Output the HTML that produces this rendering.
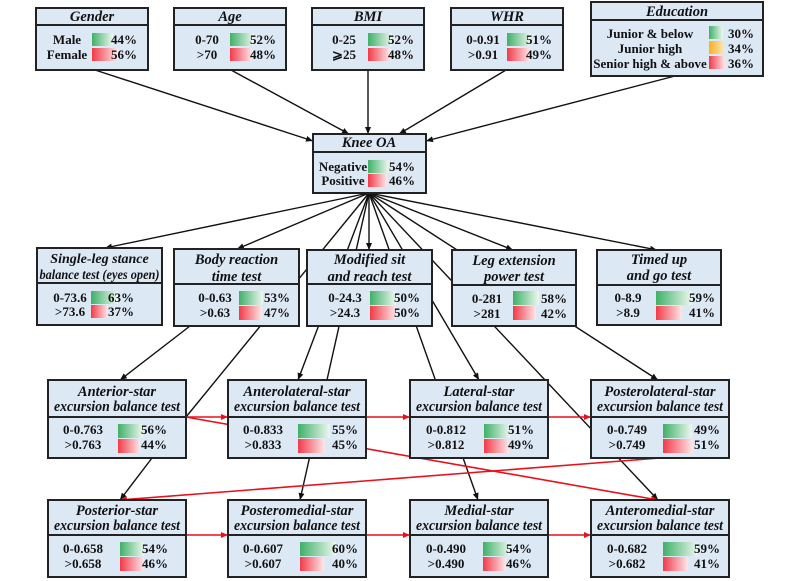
<!DOCTYPE html>
<html><head><meta charset="utf-8"><style>
html,body{margin:0;padding:0;background:#fff;}
svg{display:block;}
.t{font-family:"Liberation Serif",serif;font-weight:bold;font-style:italic;font-size:14.5px;fill:#111;text-anchor:middle;}
.t2{font-family:"Liberation Serif",serif;font-weight:bold;font-style:italic;font-size:14px;fill:#111;text-anchor:middle;}
.l{font-family:"Liberation Serif",serif;font-weight:bold;font-size:13px;fill:#111;text-anchor:middle;}
.p{font-family:"Liberation Serif",serif;font-weight:bold;font-size:13px;fill:#111;text-anchor:end;}
.b{fill:#dde8f5;stroke:#222;stroke-width:2;}
.d{stroke:#222;stroke-width:2;}
.k{stroke:#111;stroke-width:1.4;fill:none;}
.r{stroke:#e8101a;stroke-width:1.6;fill:none;}
</style></head><body>
<svg width="800" height="581" viewBox="0 0 800 581" xmlns="http://www.w3.org/2000/svg">
<defs>
<linearGradient id="g" x1="0" x2="1" y1="0" y2="0"><stop offset="0" stop-color="#3fb068"/><stop offset="1" stop-color="#eef8f0"/></linearGradient>
<linearGradient id="rr" x1="0" x2="1" y1="0" y2="0"><stop offset="0" stop-color="#f23a48"/><stop offset="1" stop-color="#fde8ea"/></linearGradient>
<linearGradient id="o" x1="0" x2="1" y1="0" y2="0"><stop offset="0" stop-color="#f9b020"/><stop offset="1" stop-color="#fde6b8"/></linearGradient>
<marker id="ak" markerWidth="8" markerHeight="8" refX="7" refY="4" orient="auto" markerUnits="userSpaceOnUse"><path d="M0,1 L7,4 L0,7z" fill="#111"/></marker>
<marker id="ar" markerWidth="8" markerHeight="8" refX="7" refY="4" orient="auto" markerUnits="userSpaceOnUse"><path d="M0,1 L7,4 L0,7z" fill="#e8101a"/></marker>
</defs>

<g class="k">
<line x1="95" y1="70" x2="313" y2="141" marker-end="url(#ak)"/>
<line x1="231" y1="70" x2="349" y2="134" marker-end="url(#ak)"/>
<line x1="368" y1="70" x2="368" y2="134" marker-end="url(#ak)"/>
<line x1="506" y1="70" x2="399" y2="134" marker-end="url(#ak)"/>
<line x1="675" y1="76" x2="426" y2="141" marker-end="url(#ak)"/>
<line x1="369" y1="193" x2="105" y2="248" marker-end="url(#ak)"/>
<line x1="369" y1="193" x2="237" y2="249" marker-end="url(#ak)"/>
<line x1="369" y1="193" x2="369" y2="250" marker-end="url(#ak)"/>
<line x1="369" y1="193" x2="513" y2="250" marker-end="url(#ak)"/>
<line x1="369" y1="193" x2="657" y2="250" marker-end="url(#ak)"/>
<line x1="369" y1="193" x2="186" y2="417"/>
<line x1="369" y1="193" x2="298" y2="380" marker-end="url(#ak)"/>
<line x1="369" y1="193" x2="300" y2="500" marker-end="url(#ak)"/>
<line x1="369" y1="193" x2="479" y2="380" marker-end="url(#ak)"/>
<line x1="369" y1="193" x2="478" y2="500" marker-end="url(#ak)"/>
<line x1="369" y1="193" x2="658" y2="380" marker-end="url(#ak)"/>
<line x1="369" y1="193" x2="658" y2="500" marker-end="url(#ak)"/>
<line x1="190" y1="326" x2="120" y2="380" marker-end="url(#ak)"/>
<line x1="152" y1="458" x2="120" y2="500" marker-end="url(#ak)"/>
</g>
<g class="r">
<line x1="186" y1="417" x2="228" y2="417" marker-end="url(#ar)"/>
<line x1="186" y1="417" x2="658" y2="500" marker-end="url(#ar)"/>
<line x1="366" y1="417" x2="410" y2="417" marker-end="url(#ar)"/>
<line x1="548" y1="417" x2="591" y2="417" marker-end="url(#ar)"/>
<line x1="660" y1="458" x2="120" y2="500" marker-end="url(#ar)"/>
<line x1="186" y1="535" x2="228" y2="535" marker-end="url(#ar)"/>
<line x1="366" y1="535" x2="410" y2="535" marker-end="url(#ar)"/>
<line x1="548" y1="535" x2="591" y2="535" marker-end="url(#ar)"/>
</g>

<rect class="b" x="36" y="8" width="112" height="62"/><line class="d" x1="36" y1="25" x2="148" y2="25"/>
<text class="t" x="92" y="21">Gender</text>
<text class="l" x="67" y="44">Male</text><rect x="92" y="33" width="21" height="13" fill="url(#g)"/><text class="p" x="137" y="44">44%</text>
<text class="l" x="67" y="59">Female</text><rect x="92" y="48" width="26" height="13" fill="url(#rr)"/><text class="p" x="137" y="59">56%</text>

<rect class="b" x="174" y="8" width="112" height="62"/><line class="d" x1="174" y1="25" x2="286" y2="25"/>
<text class="t" x="230" y="21">Age</text>
<text class="l" x="207" y="44">0-70</text><rect x="230" y="33" width="24" height="13" fill="url(#g)"/><text class="p" x="276" y="44">52%</text>
<text class="l" x="207" y="59">&gt;70</text><rect x="230" y="48" width="22" height="13" fill="url(#rr)"/><text class="p" x="276" y="59">48%</text>

<rect class="b" x="312" y="8" width="112" height="62"/><line class="d" x1="312" y1="25" x2="424" y2="25"/>
<text class="t" x="368" y="21">BMI</text>
<text class="l" x="344" y="44">0-25</text><rect x="368" y="33" width="24" height="13" fill="url(#g)"/><text class="p" x="414" y="44">52%</text>
<text class="l" x="344" y="59">⩾25</text><rect x="368" y="48" width="22" height="13" fill="url(#rr)"/><text class="p" x="414" y="59">48%</text>

<rect class="b" x="451" y="8" width="112" height="62"/><line class="d" x1="451" y1="25" x2="563" y2="25"/>
<text class="t" x="507" y="21">WHR</text>
<text class="l" x="483" y="44">0-0.91</text><rect x="507" y="33" width="24" height="13" fill="url(#g)"/><text class="p" x="552" y="44">51%</text>
<text class="l" x="483" y="59">&gt;0.91</text><rect x="507" y="48" width="23" height="13" fill="url(#rr)"/><text class="p" x="552" y="59">49%</text>

<rect class="b" x="591" y="2" width="172" height="74"/><line class="d" x1="591" y1="20" x2="763" y2="20"/>
<text class="t" x="677" y="16">Education</text>
<text class="l" x="650" y="38">Junior &amp; below</text><rect x="709" y="26" width="14" height="13" fill="url(#g)"/><text class="p" x="754" y="38">30%</text>
<text class="l" x="650" y="53">Junior high</text><rect x="709" y="41" width="15" height="13" fill="url(#o)"/><text class="p" x="754" y="53">34%</text>
<text class="l" x="650" y="68">Senior high &amp; above</text><rect x="709" y="56" width="16" height="13" fill="url(#rr)"/><text class="p" x="754" y="68">36%</text>

<rect class="b" x="313" y="134" width="113" height="59"/><line class="d" x1="313" y1="152" x2="426" y2="152"/>
<text class="t" x="369" y="147">Knee OA</text>
<text class="l" x="343" y="171">Negative</text><rect x="368" y="160" width="21" height="13" fill="url(#g)"/><text class="p" x="415" y="171">54%</text>
<text class="l" x="343" y="185">Positive</text><rect x="368" y="174" width="19" height="13" fill="url(#rr)"/><text class="p" x="415" y="185">46%</text>

<rect class="b" x="37" y="248" width="125" height="77"/><line class="d" x1="37" y1="283" x2="162" y2="283"/>
<text class="t2" x="99.5" y="263" font-size="13">Single-leg stance</text>
<text class="t2" x="99.5" y="279" font-size="12.5" textLength="120" lengthAdjust="spacingAndGlyphs">balance test (eyes open)</text>
<text class="l" x="70" y="302">0-73.6</text><rect x="91" y="291" width="27" height="13" fill="url(#g)"/><text class="p" x="134" y="302">63%</text>
<text class="l" x="70" y="316">&gt;73.6</text><rect x="91" y="305" width="17" height="13" fill="url(#rr)"/><text class="p" x="134" y="316">37%</text>

<rect class="b" x="174" y="249" width="125" height="77"/><line class="d" x1="174" y1="284" x2="299" y2="284"/>
<text class="t" x="236.5" y="264">Body reaction</text><text class="t" x="236.5" y="281">time test</text>
<text class="l" x="215" y="302">0-0.63</text><rect x="239" y="291" width="24" height="14" fill="url(#g)"/><text class="p" x="290" y="302">53%</text>
<text class="l" x="215" y="317">&gt;0.63</text><rect x="239" y="306" width="23" height="14" fill="url(#rr)"/><text class="p" x="290" y="317">47%</text>

<rect class="b" x="307" y="250" width="125" height="76"/><line class="d" x1="307" y1="284" x2="432" y2="284"/>
<text class="t" x="369.5" y="264">Modified sit</text><text class="t" x="369.5" y="281">and reach test</text>
<text class="l" x="345" y="302">0-24.3</text><rect x="370" y="291" width="26" height="14" fill="url(#g)"/><text class="p" x="420" y="302">50%</text>
<text class="l" x="345" y="317">&gt;24.3</text><rect x="370" y="306" width="26" height="14" fill="url(#rr)"/><text class="p" x="420" y="317">50%</text>

<rect class="b" x="452" y="250" width="124" height="76"/><line class="d" x1="452" y1="285" x2="576" y2="285"/>
<text class="t" x="514" y="265">Leg extension</text><text class="t" x="514" y="281">power test</text>
<text class="l" x="487" y="303">0-281</text><rect x="513" y="291" width="26" height="14" fill="url(#g)"/><text class="p" x="567" y="303">58%</text>
<text class="l" x="487" y="318">&gt;281</text><rect x="513" y="306" width="23" height="14" fill="url(#rr)"/><text class="p" x="567" y="318">42%</text>

<rect class="b" x="597" y="250" width="124" height="75"/><line class="d" x1="597" y1="285" x2="721" y2="285"/>
<text class="t" x="659" y="264">Timed up</text><text class="t" x="659" y="280">and go test</text>
<text class="l" x="628" y="302">0-8.9</text><rect x="656" y="291" width="36" height="14" fill="url(#g)"/><text class="p" x="715" y="302">59%</text>
<text class="l" x="628" y="317">&gt;8.9</text><rect x="656" y="306" width="26" height="14" fill="url(#rr)"/><text class="p" x="715" y="317">41%</text>

<rect class="b" x="48" y="380" width="138" height="78"/><line class="d" x1="48" y1="417" x2="186" y2="417"/>
<text class="t" x="117" y="396">Anterior-star</text><text class="t" x="117" y="411" textLength="126" lengthAdjust="spacingAndGlyphs">excursion balance test</text>
<text class="l" x="83" y="434">0-0.763</text><rect x="118" y="424" width="25" height="14" fill="url(#g)"/><text class="p" x="167" y="434">56%</text>
<text class="l" x="83" y="449">&gt;0.763</text><rect x="118" y="439" width="22" height="14" fill="url(#rr)"/><text class="p" x="167" y="449">44%</text>

<rect class="b" x="228" y="380" width="138" height="78"/><line class="d" x1="228" y1="417" x2="366" y2="417"/>
<text class="t" x="297" y="396">Anterolateral-star</text><text class="t" x="297" y="411" textLength="126" lengthAdjust="spacingAndGlyphs">excursion balance test</text>
<text class="l" x="263" y="434">0-0.833</text><rect x="298" y="424" width="32" height="14" fill="url(#g)"/><text class="p" x="358" y="434">55%</text>
<text class="l" x="263" y="449">&gt;0.833</text><rect x="298" y="439" width="27" height="14" fill="url(#rr)"/><text class="p" x="358" y="449">45%</text>

<rect class="b" x="410" y="380" width="138" height="78"/><line class="d" x1="410" y1="417" x2="548" y2="417"/>
<text class="t" x="479" y="396">Lateral-star</text><text class="t" x="479" y="411" textLength="126" lengthAdjust="spacingAndGlyphs">excursion balance test</text>
<text class="l" x="446" y="434">0-0.812</text><rect x="484" y="424" width="26" height="14" fill="url(#g)"/><text class="p" x="534" y="434">51%</text>
<text class="l" x="446" y="449">&gt;0.812</text><rect x="484" y="439" width="25" height="14" fill="url(#rr)"/><text class="p" x="534" y="449">49%</text>

<rect class="b" x="591" y="380" width="138" height="78"/><line class="d" x1="591" y1="417" x2="729" y2="417"/>
<text class="t" x="660" y="396">Posterolateral-star</text><text class="t" x="660" y="411" textLength="126" lengthAdjust="spacingAndGlyphs">excursion balance test</text>
<text class="l" x="627" y="434">0-0.749</text><rect x="663" y="424" width="29" height="14" fill="url(#g)"/><text class="p" x="720" y="434">49%</text>
<text class="l" x="627" y="449">&gt;0.749</text><rect x="663" y="439" width="30" height="14" fill="url(#rr)"/><text class="p" x="720" y="449">51%</text>

<rect class="b" x="48" y="500" width="138" height="77"/><line class="d" x1="48" y1="535" x2="186" y2="535"/>
<text class="t" x="117" y="515">Posterior-star</text><text class="t" x="117" y="530" textLength="126" lengthAdjust="spacingAndGlyphs">excursion balance test</text>
<text class="l" x="83" y="553">0-0.658</text><rect x="120" y="542" width="24" height="14" fill="url(#g)"/><text class="p" x="168" y="553">54%</text>
<text class="l" x="83" y="568">&gt;0.658</text><rect x="120" y="557" width="24" height="14" fill="url(#rr)"/><text class="p" x="168" y="568">46%</text>

<rect class="b" x="228" y="500" width="138" height="77"/><line class="d" x1="228" y1="535" x2="366" y2="535"/>
<text class="t" x="297" y="515">Posteromedial-star</text><text class="t" x="297" y="530" textLength="126" lengthAdjust="spacingAndGlyphs">excursion balance test</text>
<text class="l" x="263" y="553">0-0.607</text><rect x="300" y="542" width="36" height="14" fill="url(#g)"/><text class="p" x="358" y="553">60%</text>
<text class="l" x="263" y="568">&gt;0.607</text><rect x="300" y="557" width="24" height="14" fill="url(#rr)"/><text class="p" x="358" y="568">40%</text>

<rect class="b" x="410" y="500" width="138" height="77"/><line class="d" x1="410" y1="535" x2="548" y2="535"/>
<text class="t" x="479" y="515">Medial-star</text><text class="t" x="479" y="530" textLength="126" lengthAdjust="spacingAndGlyphs">excursion balance test</text>
<text class="l" x="446" y="553">0-0.490</text><rect x="483" y="542" width="27" height="14" fill="url(#g)"/><text class="p" x="532" y="553">54%</text>
<text class="l" x="446" y="568">&gt;0.490</text><rect x="483" y="557" width="23" height="14" fill="url(#rr)"/><text class="p" x="532" y="568">46%</text>

<rect class="b" x="591" y="500" width="138" height="77"/><line class="d" x1="591" y1="535" x2="729" y2="535"/>
<text class="t" x="660" y="515">Anteromedial-star</text><text class="t" x="660" y="530" textLength="126" lengthAdjust="spacingAndGlyphs">excursion balance test</text>
<text class="l" x="627" y="553">0-0.682</text><rect x="663" y="542" width="35" height="14" fill="url(#g)"/><text class="p" x="720" y="553">59%</text>
<text class="l" x="627" y="568">&gt;0.682</text><rect x="663" y="557" width="25" height="14" fill="url(#rr)"/><text class="p" x="720" y="568">41%</text>
</svg>
</body></html>
